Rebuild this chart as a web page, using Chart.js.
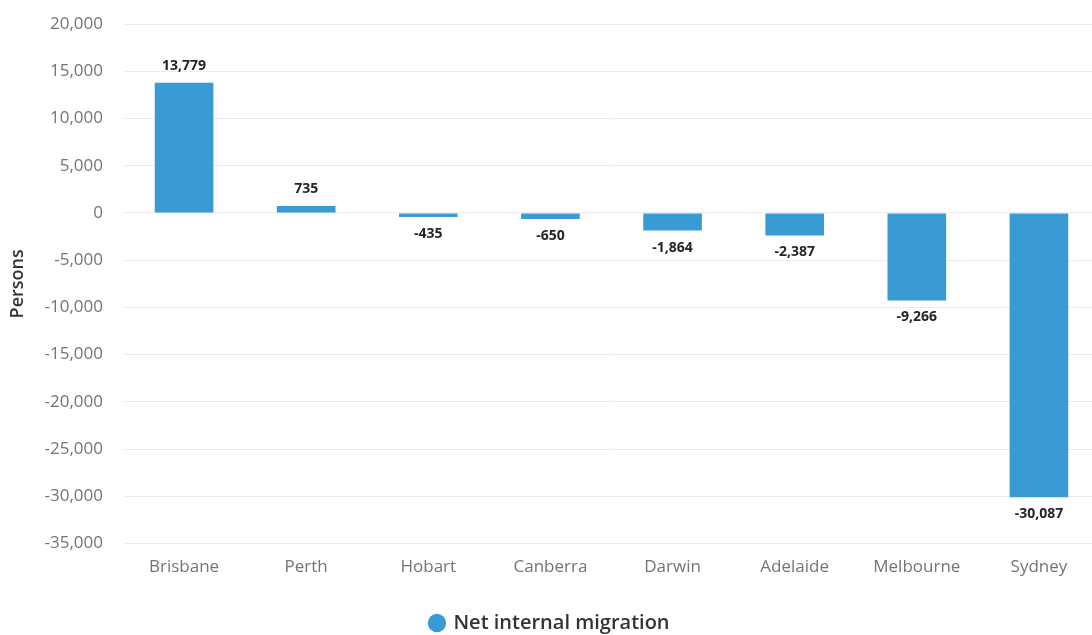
<!DOCTYPE html>
<html>
<head>
<meta charset="utf-8">
<script src="https://cdn.jsdelivr.net/npm/chart.js@4"></script>
<style>
  html, body { margin: 0; padding: 0; background: #fff; overflow: hidden; }
  #wrap { width: 1100px; height: 635px; position: relative; }
</style>
</head>
<body>
<div id="wrap"><canvas id="migrationChart"></canvas></div>
<script>
// Chart data
const cities = ['Brisbane', 'Perth', 'Hobart', 'Canberra', 'Darwin', 'Adelaide', 'Melbourne', 'Sydney'];
const netMigration = [13779, 735, -435, -650, -1864, -2387, -9266, -30087];
const seriesName = 'Net internal migration';
const yMin = -35000;
const yMax = 20000;
const yStep = 5000;

const barColor = '#3a9ad3';
const fontFamily = '"Open Sans", sans-serif';

// Draws the value above / below each bar
const valueLabels = {
    id: 'valueLabels',
    afterDatasetsDraw(chart) {
        const ctx = chart.ctx;
        const meta = chart.getDatasetMeta(0);
        ctx.save();
        ctx.font = 'bold 14px ' + fontFamily;
        ctx.fillStyle = '#252525';
        ctx.textAlign = 'center';
        ctx.textBaseline = 'middle';
        meta.data.forEach((bar, i) => {
            const v = chart.data.datasets[0].data[i];
            const text = v.toLocaleString('en-US');
            const dy = v >= 0 ? -17 : 17;
            ctx.fillText(text, bar.x, bar.y + dy);
        });
        ctx.restore();
    }
};

function initChart() {
    const ctx = document.getElementById('migrationChart');

    new Chart(ctx, {
        type: 'bar',
        data: {
            labels: cities,
            datasets: [{
                label: seriesName,
                data: netMigration,
                backgroundColor: barColor,
                borderWidth: 0,
                categoryPercentage: 0.96,
                barPercentage: 0.5
            }]
        },
        options: {
            responsive: true,
            maintainAspectRatio: false,
            animation: false,
            layout: {
                padding: { left: 0, right: 0, top: 24, bottom: -8 }
            },
            plugins: {
                legend: {
                    position: 'bottom',
                    labels: {
                        usePointStyle: true,
                        pointStyle: 'circle',
                        boxWidth: 13,
                        boxHeight: 13,
                        padding: 0,
                        color: '#333',
                        font: { family: fontFamily, size: 20, weight: '600' }
                    }
                },
                tooltip: { enabled: false }
            },
            scales: {
                x: {
                    grid: { display: false, drawTicks: false },
                    border: { display: false },
                    ticks: {
                        color: '#747474',
                        padding: 13,
                        font: { family: fontFamily, size: 17 }
                    },
                    afterFit: function (scale) {
                        scale.height += 23;
                    }
                },
                y: {
                    min: yMin,
                    max: yMax,
                    ticks: {
                        stepSize: yStep,
                        color: '#747474',
                        padding: 20,
                        font: { family: fontFamily, size: 17 },
                        callback: function (value) {
                            return value.toLocaleString('en-US');
                        }
                    },
                    grid: {
                        color: '#ebebf0',
                        drawTicks: false
                    },
                    border: { display: false },
                    title: {
                        display: true,
                        text: 'Persons',
                        color: '#333',
                        padding: 7,
                        font: { family: fontFamily, size: 18, weight: '600' }
                    },
                    afterFit: function (scale) {
                        scale.width = 123;
                        scale.paddingTop = 0;
                        scale.paddingBottom = 0;
                    }
                }
            }
        },
        plugins: [valueLabels]
    });
}

initChart();
</script>
</body>
</html>
